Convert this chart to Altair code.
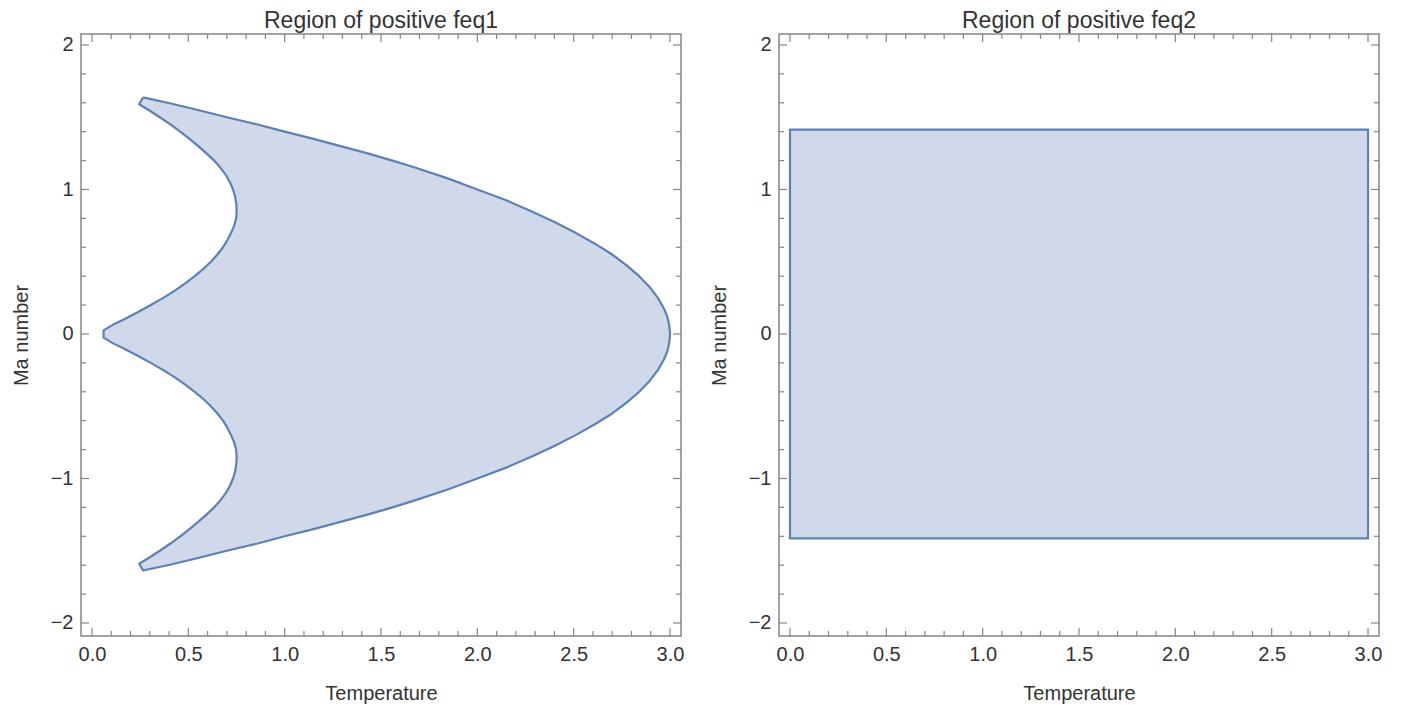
import altair as alt
import pandas as pd

# ---- data ----
# left panel: boundary of the region (Temperature, Ma), upper half
outer_T = [0.265, 0.41, 0.55, 0.70, 0.86, 1.00, 1.15, 1.29, 1.43, 1.56, 1.68, 1.85, 2.00,
           2.15, 2.28, 2.40, 2.51, 2.61, 2.70, 2.775, 2.84, 2.894, 2.937, 2.969, 2.986, 2.996, 3.00]
outer_Ma = [1.637, 1.595, 1.55, 1.50, 1.45, 1.40, 1.35, 1.30, 1.25, 1.20, 1.15, 1.075, 1.00,
            0.925, 0.85, 0.775, 0.70, 0.625, 0.55, 0.475, 0.40, 0.325, 0.25, 0.175, 0.12, 0.06, 0.00]
inner_T = [0.245, 0.30, 0.352, 0.407, 0.458, 0.506, 0.551, 0.594, 0.634, 0.667, 0.695, 0.716, 0.732,
           0.743, 0.749, 0.751, 0.748, 0.738, 0.722, 0.703, 0.68, 0.651, 0.617, 0.578, 0.533,
           0.484, 0.43, 0.37, 0.305, 0.237, 0.165, 0.11, 0.06]
inner_Ma = [1.59, 1.545, 1.50, 1.45, 1.40, 1.35, 1.30, 1.25, 1.20, 1.15, 1.10, 1.05, 1.00,
            0.95, 0.90, 0.85, 0.80, 0.75, 0.70, 0.65, 0.60, 0.55, 0.50, 0.45, 0.40,
            0.35, 0.30, 0.25, 0.20, 0.15, 0.10, 0.065, 0.025]

# right panel: rectangle
rect_T = [0.0, 3.0]
rect_Ma = [-1.414, 1.414]

# axes
x_major = [0.0, 0.5, 1.0, 1.5, 2.0, 2.5, 3.0]
x_minor = [0.1, 0.2, 0.3, 0.4, 0.6, 0.7, 0.8, 0.9, 1.1, 1.2, 1.3, 1.4, 1.6, 1.7, 1.8, 1.9,
           2.1, 2.2, 2.3, 2.4, 2.6, 2.7, 2.8, 2.9]
y_major = [-2, -1, 0, 1, 2]
y_minor = [-1.8, -1.6, -1.4, -1.2, -0.8, -0.6, -0.4, -0.2, 0.2, 0.4, 0.6, 0.8, 1.2, 1.4, 1.6, 1.8]

titles = ["Region of positive feq1", "Region of positive feq2"]

# ---- build polygon table for left region (closed path) ----
rows = []
for t, m in zip(outer_T, outer_Ma):                    # outer upper: tip -> apex
    rows.append((t, m))
for t, m in list(zip(outer_T, outer_Ma))[::-1][1:]:    # outer lower: apex -> bottom tip
    rows.append((t, -m))
for t, m in zip(inner_T, inner_Ma):                    # inner lower: bottom tip -> cusp
    rows.append((t, -m))
for t, m in list(zip(inner_T, inner_Ma))[::-1]:        # inner upper: cusp -> top tip
    rows.append((t, m))
rows.append(rows[0])
poly = pd.DataFrame({"T": [r[0] for r in rows], "Ma": [r[1] for r in rows],
                     "o": list(range(len(rows)))})

rect = pd.DataFrame({"T": [rect_T[0]], "T2": [rect_T[1]], "Ma": [rect_Ma[0]], "Ma2": [rect_Ma[1]]})

W, H = 600, 602
xdom = [-0.057, 3.057]
ydom = [-2.09, 2.076]
FONT = "Liberation Sans"
TXT = "#333333"
FRAME = "#858585"
STROKE = "#5e81b5"
FILL = "#cfd9e9"

xs = alt.Scale(domain=xdom, nice=False, zero=False)
ys = alt.Scale(domain=ydom, nice=False, zero=False)

xaxis = alt.Axis(values=x_major, format=".1f", title="Temperature", ticks=False, domain=False,
                 grid=False, labelFontSize=20, labelPadding=8, titleFontSize=20, titlePadding=19,
                 labelColor=TXT, titleColor=TXT, labelFont=FONT, titleFont=FONT,
                 titleFontWeight="normal", labelOverlap=False)
yaxis = alt.Axis(values=y_major, format="d", title="Ma number", ticks=False, domain=False,
                 grid=False, labelFontSize=20, labelPadding=8, titleFontSize=20, titlePadding=19,
                 labelColor=TXT, titleColor=TXT, labelFont=FONT, titleFont=FONT,
                 titleFontWeight="normal", labelOverlap=False)


def tick_layers():
    out = []
    xmaj = pd.DataFrame({"v": x_major})
    xmin = pd.DataFrame({"v": x_minor})
    ymaj = pd.DataFrame({"v": y_major})
    ymin = pd.DataFrame({"v": y_minor})
    for df, ln in [(xmaj, 8), (xmin, 5)]:
        base = alt.Chart(df).mark_rule(color=FRAME, strokeWidth=1.2)
        out.append(base.encode(x=alt.X("v:Q", scale=xs, axis=xaxis), y=alt.value(H), y2=alt.value(H - ln)))
        out.append(base.encode(x=alt.X("v:Q", scale=xs, axis=xaxis), y=alt.value(0), y2=alt.value(ln)))
    for df, ln in [(ymaj, 8), (ymin, 5)]:
        base = alt.Chart(df).mark_rule(color=FRAME, strokeWidth=1.2)
        out.append(base.encode(y=alt.Y("v:Q", scale=ys, axis=yaxis), x=alt.value(0), x2=alt.value(ln)))
        out.append(base.encode(y=alt.Y("v:Q", scale=ys, axis=yaxis), x=alt.value(W), x2=alt.value(W - ln)))
    return out


title_params = dict(fontSize=23, font=FONT, color=TXT, fontWeight="normal", offset=0)

left_shape = alt.Chart(poly).mark_line(fill=FILL, stroke=STROKE, strokeWidth=2.2, strokeJoin="round").encode(
    x=alt.X("T:Q", scale=xs, axis=xaxis),
    y=alt.Y("Ma:Q", scale=ys, axis=yaxis),
    order="o:Q",
)
left = alt.layer(left_shape, *tick_layers()).properties(
    width=W, height=H, title=alt.TitleParams(titles[0], **title_params))

right_shape = alt.Chart(rect).mark_rect(fill=FILL, stroke=STROKE, strokeWidth=2.2).encode(
    x=alt.X("T:Q", scale=xs, axis=xaxis),
    x2="T2:Q",
    y=alt.Y("Ma:Q", scale=ys, axis=yaxis),
    y2="Ma2:Q",
)
right = alt.layer(right_shape, *tick_layers()).properties(
    width=W, height=H, title=alt.TitleParams(titles[1], **title_params))

chart = alt.hconcat(left, right, spacing=23).properties(
    padding={"left": 2, "top": 1, "right": 5, "bottom": 0},
    background="white",
).configure_view(stroke=FRAME, strokeWidth=1.5)

chart.save("out.html", embed_options={"renderer": "svg", "actions": False})
